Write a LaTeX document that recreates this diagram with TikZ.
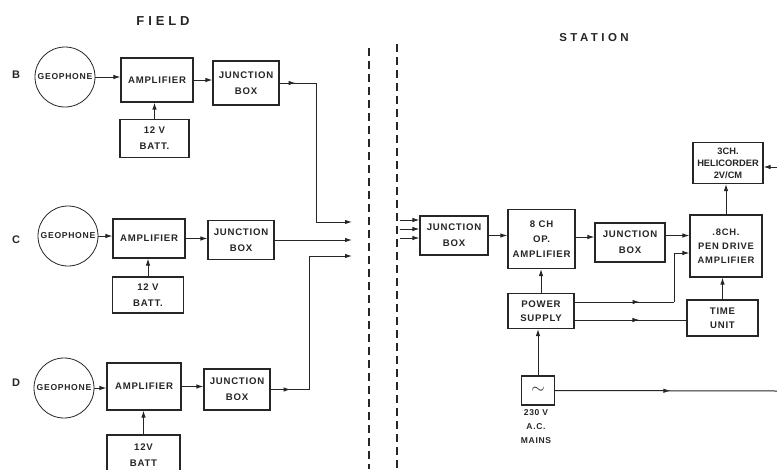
\documentclass[tikz,border=0pt]{standalone}
\usepackage{fontspec}
\setmainfont{Liberation Sans}
\newfontfamily\lblfont[LetterSpace=8]{Liberation Sans}
\newfontfamily\headfont[LetterSpace=30]{Liberation Sans}
\usetikzlibrary{arrows.meta,decorations.markings}
\definecolor{ink}{gray}{0.15}
\begin{document}
\begin{tikzpicture}[x=1pt,y=-1pt,
  every node/.style={text=ink},
  box/.style={draw=ink,line width=1.1pt,align=center,inner sep=1pt,font=\lblfont\bfseries\fontsize{9.6}{16}\selectfont},
  geo/.style={draw=ink,line width=0.8pt,circle,minimum size=60pt,inner sep=0pt,font=\lblfont\bfseries\fontsize{8.6}{9}\selectfont},
  wire/.style={draw=ink,line width=1pt},
  arr/.style={wire,-{Latex[length=7pt,width=4.5pt]}},
  midarr/.style={wire,postaction=decorate,decoration={markings,mark=at position #1 with {\arrow{Latex[length=7pt,width=4.5pt]}}}},
  midarr/.default=0.5,
  row/.style={font=\bfseries\fontsize{11}{12}\selectfont},
  head/.style={font=\headfont\bfseries\fontsize{13}{14}\selectfont},
  sep/.style={draw=ink,line width=1.2pt,dash pattern=on 8pt off 5pt}
]
\useasboundingbox (0,0) rectangle (777,469);
\fill[white] (0,0) rectangle (777,469);

% headings
\node[head] (field) at (163,21) {FIELD};
\node[head,font=\headfont\bfseries\fontsize{11.5}{12}\selectfont] (station) at (594,38) {STATION};
\node[row] (lB) at (16,75) {B};
\node[row] (lC) at (16,240) {C};
\node[row] (lD) at (16,383) {D};

% row B
\node[geo] (geoB) at (65,77) {GEOPHONE};
\node[box,minimum width=72pt,minimum height=44pt] (ampB) at (157,80) {AMPLIFIER};
\node[box,minimum width=66pt,minimum height=44pt] (jbB) at (246,83) {JUNCTION\\BOX};
\node[box,minimum width=69pt,minimum height=38pt] (batB) at (154.5,138.5) {12 V\\BATT.};
\draw[arr] (geoB.east) -- (geoB.east -| ampB.west);
\draw[arr] (ampB.east) -- (ampB.east -| jbB.west);
\draw[arr] (batB.north) -- (batB.north |- ampB.south);
\coordinate (kB1) at (316,83);
\coordinate (inB) at (352,222);
\draw[midarr=16pt] (jbB.east) -- (kB1);
\draw[arr] (kB1) |- (inB);

% row C
\node[geo] (geoC) at (68,236) {GEOPHONE};
\node[box,minimum width=72pt,minimum height=39pt] (ampC) at (149,238.5) {AMPLIFIER};
\node[box,minimum width=66pt,minimum height=39pt] (jbC) at (241,240) {JUNCTION\\BOX};
\node[box,minimum width=71pt,minimum height=36pt] (batC) at (148,295) {12 V\\BATT.};
\draw[arr] (geoC.east) -- (geoC.east -| ampC.west);
\draw[arr] (ampC.east) -- (ampC.east -| jbC.west);
\draw[arr] (batC.north) -- (batC.north |- ampC.south);
\coordinate (inC) at (352,240);
\draw[arr] (jbC.east) -- (inC);

% row D
\node[geo] (geoD) at (64,388) {GEOPHONE};
\node[box,minimum width=74pt,minimum height=47pt] (ampD) at (144,386.5) {AMPLIFIER};
\node[box,minimum width=66pt,minimum height=41pt] (jbD) at (237,389.5) {JUNCTION\\BOX};
\node[box,minimum width=73pt,minimum height=40pt] (batD) at (143.5,455) {12V\\BATT};
\draw[arr] (geoD.east) -- (geoD.east -| ampD.west);
\draw[arr] (ampD.east) -- (ampD.east -| jbD.west);
\draw[arr] (batD.north) -- (batD.north |- ampD.south);
\coordinate (kD1) at (309,389.5);
\coordinate (inD) at (352,256);
\draw[midarr=20pt] (jbD.east) -- (kD1);
\draw[arr] (kD1) |- (inD);

% separator
\coordinate (s1a) at (369,48); \coordinate (s1b) at (369,469);
\coordinate (s2a) at (397,44); \coordinate (s2b) at (397,469);
\draw[sep] (s1a) -- (s1b);
\draw[sep] (s2a) -- (s2b);

% station
\node[box,minimum width=68pt,minimum height=39pt] (jbS) at (454,235.5) {JUNCTION\\BOX};
\node[box,minimum width=67pt,minimum height=59pt,font=\lblfont\bfseries\fontsize{9.6}{15}\selectfont] (opamp) at (541.5,239) {8 CH\\OP.\\AMPLIFIER};
\node[box,minimum width=70pt,minimum height=39pt] (jb2) at (630,242.5) {JUNCTION\\BOX};
\node[box,minimum width=72pt,minimum height=62pt,font=\lblfont\bfseries\fontsize{9.4}{14}\selectfont] (pen) at (726,246) {.8CH.\\PEN DRIVE\\AMPLIFIER};
\node[box,minimum width=70pt,minimum height=41pt,font=\bfseries\fontsize{9.3}{12}\selectfont] (heli) at (728,163) {3CH.\\HELICORDER\\2V/CM};
\node[box,minimum width=66pt,minimum height=35pt,font=\lblfont\bfseries\fontsize{9.6}{14}\selectfont] (ps) at (541,311) {POWER\\SUPPLY};
\node[box,minimum width=71pt,minimum height=36pt,font=\lblfont\bfseries\fontsize{9.6}{14}\selectfont] (tu) at (722.5,318) {TIME\\UNIT};
\node[box,minimum width=33pt,minimum height=29pt,font=\fontsize{18}{18}\selectfont] (mains) at (538,390.5) {$\sim$};
\node[align=center,font=\lblfont\bfseries\fontsize{8.5}{14}\selectfont,anchor=north] (mainslbl) at (536,406) {230 V\\A.C.\\MAINS};

\coordinate (i1) at (400,220);
\coordinate (i2) at (400,229);
\coordinate (i3) at (400,238);
\draw[arr] (i1) -- (i1 -| jbS.west);
\draw[arr] (i2) -- (i2 -| jbS.west);
\draw[arr] (i3) -- (i3 -| jbS.west);
\draw[arr] (jbS.east) -- (jbS.east -| opamp.west);
\draw[arr] ([yshift=2pt]opamp.east) -- ([yshift=2pt]opamp.east -| jb2.west);
\draw[arr] ([yshift=7pt]jb2.east) -- ([yshift=7pt]jb2.east -| pen.west);
\draw[arr] (pen.north) -- (pen.north |- heli.south);
\draw[arr] (tu.north) -- (tu.north |- pen.south);
\draw[arr] (ps.north) -- (ps.north |- opamp.south);
\draw[arr] (mains.north) -- (mains.north |- ps.south);

\coordinate (k1) at (674,302);
\coordinate (k2) at (674,253);
\draw[midarr=65pt] ([yshift=9pt]ps.east) -- (k1);
\draw[arr] (k1) -- (k2) -- (k2 -| pen.west);
\draw[midarr=0.58] ([yshift=-9pt]ps.east) -- ([yshift=-9pt]ps.east -| tu.west);

\coordinate (mOut) at (777,391);
\draw[midarr=0.52] (mains.east) -- (mOut);
\coordinate (hIn) at (777,167);
\draw[arr] (hIn) -- (hIn -| heli.east);
\end{tikzpicture}
\end{document}
